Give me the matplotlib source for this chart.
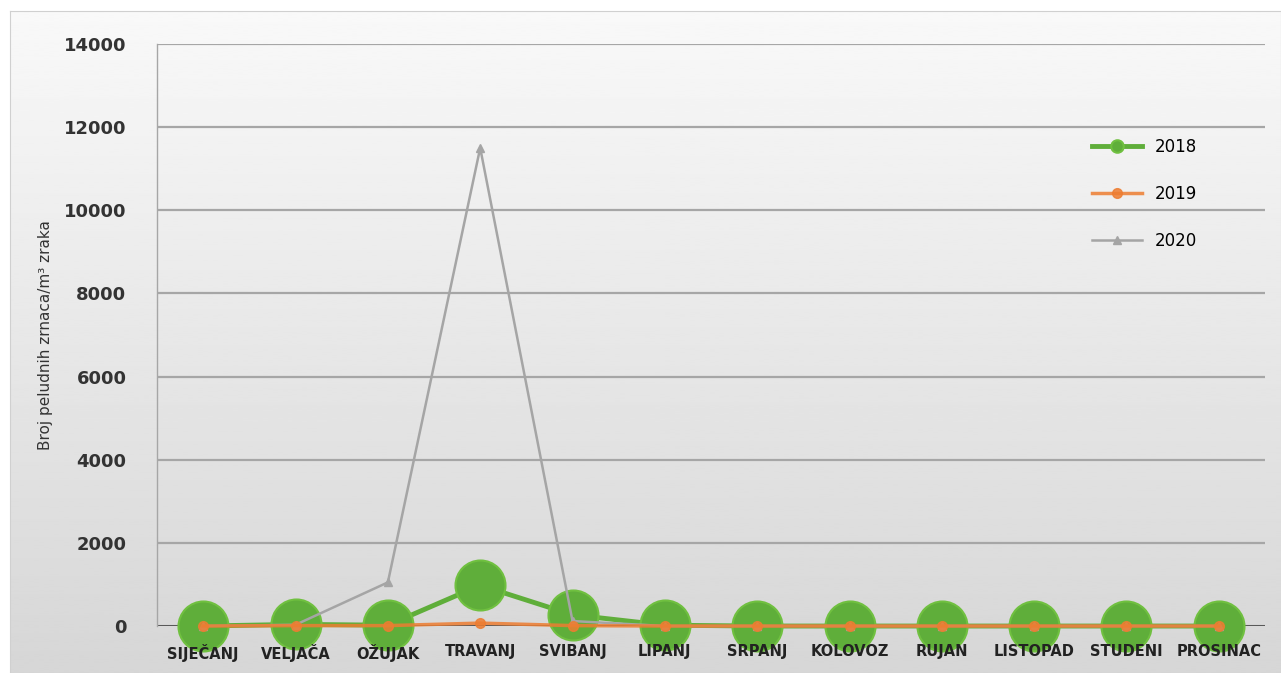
import numpy as np
import matplotlib
matplotlib.use("Agg")
import matplotlib.pyplot as plt

months = ["SIJEČANJ", "VELJAČA", "OŽUJAK", "TRAVANJ", "SVIBANJ", "LIPANJ",
          "SRPANJ", "KOLOVOZ", "RUJAN", "LISTOPAD", "STUDENI", "PROSINAC"]
v2018 = [0, 40, 20, 980, 270, 20, 0, 0, 0, 0, 0, 0]
v2019 = [0, 10, 10, 70, 10, 0, 0, 0, 0, 0, 0, 0]
v2020 = [0, 30, 1050, 11500, 120, 0, 0, 0, 0, 0, 0, 0]
yticks = [0, 2000, 4000, 6000, 8000, 10000, 12000, 14000]

fig = plt.figure(figsize=(12.81, 6.73), dpi=100)
fig.patch.set_facecolor("white")

# gradient panel behind the chart
bg = fig.add_axes([0.008, 0.0, 0.992, 0.984], zorder=0)
grad = np.linspace(0.975, 0.84, 256).reshape(-1, 1)
bg.imshow(grad, aspect="auto", cmap="gray", vmin=0, vmax=1, extent=[0, 1, 0, 1], origin="upper")
bg.set_xticks([])
bg.set_yticks([])
for s in bg.spines.values():
    s.set_color("#d0d0d0")
    s.set_linewidth(0.8)

ax = fig.add_axes([0.1226, 0.0698, 0.8649, 0.8648], zorder=1)
ax.patch.set_alpha(0)

x = np.arange(len(months))
ax.plot(x, v2020, color="#a5a5a5", lw=1.8, marker="^", ms=6, zorder=3, label="2020", clip_on=False)
ax.plot(x, v2019, color="#ed7d31", lw=2.5, marker="o", ms=7, zorder=4, label="2019", clip_on=False,
        alpha=0.85)
ax.plot(x, v2018, color="#5fae3a", lw=3.5, marker="o", ms=36, zorder=2, label="2018",
        markeredgecolor="#70c040", markeredgewidth=1.5, clip_on=False)

ax.set_xlim(-0.5, len(months) - 0.5)
ax.set_ylim(0, 14000)
ax.set_yticks(yticks)
ax.set_yticklabels([str(t) for t in yticks], fontsize=13, fontweight="bold", color="#333333")
ax.set_xticks(x)
ax.set_xticklabels(months, fontsize=10.5, fontweight="bold", color="#222222")
ax.tick_params(axis="both", length=0)
ax.tick_params(axis="y", pad=22)
ax.tick_params(axis="x", pad=13)
ax.xaxis.set_zorder(10)

for t in yticks[1:]:
    ax.axhline(t, color="#a6a6a6", lw=1.6, zorder=1)
ax.axhline(0, color="#595959", lw=2.2, zorder=1)

for s in ["top", "right", "bottom"]:
    ax.spines[s].set_visible(False)
ax.spines["left"].set_color("#a6a6a6")
ax.spines["left"].set_linewidth(1)

ax.set_ylabel("Broj peludnih zrnaca/m³ zraka", fontsize=11, color="#333333", labelpad=8)

h, l = ax.get_legend_handles_labels()
order = [2, 1, 0]
leg = ax.legend([h[i] for i in order], [l[i] for i in order], loc="upper left",
                bbox_to_anchor=(0.83, 0.865), frameon=False, fontsize=12,
                labelspacing=1.75, handlelength=3, markerscale=1)
leg.legend_handles[0].set_markersize(9)

fig.savefig("out.png", dpi=100)
